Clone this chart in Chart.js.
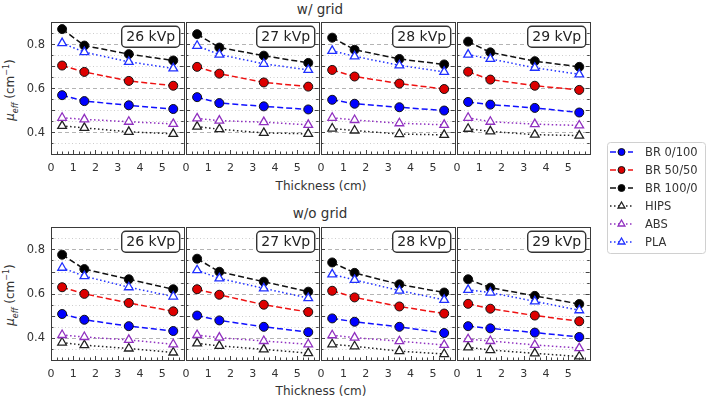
<!DOCTYPE html>
<html>
<head>
<meta charset="utf-8">
<script src="https://cdn.jsdelivr.net/npm/chart.js@4.4.0/dist/chart.umd.min.js"></script>
<style>
  body { margin:0; background:#fff; width:708px; height:399px; position:relative; overflow:hidden; font-family:"DejaVu Sans", sans-serif; color:#333; }
  canvas { position:absolute; }
  .txt { position:absolute; white-space:nowrap; transform:translate(-50%,-50%); }
  .ylab { position:absolute; white-space:nowrap; transform:translate(-50%,-50%) rotate(-90deg); font-size:12px; }
  .ylab sub { font-size:8px; }
  .ylab sup { font-size:8px; }
</style>
</head>
<body>
<div class="txt" style="left:320px;top:9px;font-size:13.5px">w/ grid</div>
<div class="txt" style="left:321px;top:186px;font-size:12px">Thickness (cm)</div>
<div class="txt" style="left:320px;top:213px;font-size:13.5px">w/o grid</div>
<div class="txt" style="left:321px;top:391px;font-size:12px">Thickness (cm)</div>
<div class="ylab" style="left:11px;top:90px"><i>μ</i><sub><i>eff</i></sub> (cm<sup>−1</sup>)</div>
<div class="ylab" style="left:11px;top:295px"><i>μ</i><sub><i>eff</i></sub> (cm<sup>−1</sup>)</div>
<script>
(function () {
  'use strict'

  const thickness = [0.5, 1.5, 3.5, 5.5]
  const kvps = ['26 kVp', '27 kVp', '28 kVp', '29 kVp']
  const seriesNames = ['BR 0/100', 'BR 50/50', 'BR 100/0', 'HIPS', 'ABS', 'PLA']
  const xTicks = [0, 1, 2, 3, 4, 5]
  const yTicks = [0.4, 0.6, 0.8]

  // w/ grid, one row per kVp (26..29)
  const br0Grid = [[0.568, 0.541, 0.522, 0.505], [0.559, 0.532, 0.517, 0.503], [0.547, 0.529, 0.513, 0.498], [0.537, 0.525, 0.510, 0.489]]
  const br50Grid = [[0.703, 0.674, 0.633, 0.611], [0.697, 0.666, 0.626, 0.607], [0.683, 0.653, 0.621, 0.596], [0.675, 0.639, 0.611, 0.592]]
  const br100Grid = [[0.869, 0.794, 0.755, 0.726], [0.846, 0.785, 0.748, 0.715], [0.830, 0.775, 0.733, 0.708], [0.812, 0.763, 0.723, 0.697]]
  const hipsGrid = [[0.428, 0.419, 0.401, 0.392], [0.425, 0.413, 0.396, 0.392], [0.416, 0.407, 0.391, 0.387], [0.415, 0.403, 0.388, 0.384]]
  const absGrid = [[0.465, 0.458, 0.447, 0.437], [0.462, 0.452, 0.445, 0.433], [0.465, 0.455, 0.440, 0.433], [0.465, 0.447, 0.436, 0.430]]
  const plaGrid = [[0.805, 0.764, 0.720, 0.690], [0.793, 0.753, 0.711, 0.683], [0.770, 0.745, 0.704, 0.674], [0.753, 0.733, 0.693, 0.663]]

  // w/o grid
  const br0NoGrid = [[0.508, 0.482, 0.453, 0.431], [0.501, 0.479, 0.450, 0.426], [0.488, 0.473, 0.450, 0.422], [0.453, 0.443, 0.424, 0.404]]
  const br50NoGrid = [[0.629, 0.599, 0.558, 0.520], [0.620, 0.595, 0.550, 0.517], [0.613, 0.583, 0.542, 0.510], [0.554, 0.532, 0.501, 0.475]]
  const br100NoGrid = [[0.776, 0.711, 0.665, 0.620], [0.758, 0.699, 0.654, 0.609], [0.741, 0.694, 0.642, 0.605], [0.665, 0.627, 0.590, 0.553]]
  const hipsNoGrid = [[0.379, 0.367, 0.352, 0.334], [0.375, 0.364, 0.348, 0.331], [0.371, 0.362, 0.340, 0.327], [0.357, 0.345, 0.330, 0.316]]
  const absNoGrid = [[0.413, 0.404, 0.391, 0.371], [0.413, 0.401, 0.386, 0.371], [0.412, 0.401, 0.385, 0.368], [0.394, 0.386, 0.368, 0.354]]
  const plaNoGrid = [[0.717, 0.679, 0.629, 0.587], [0.706, 0.669, 0.624, 0.580], [0.687, 0.662, 0.614, 0.572], [0.617, 0.605, 0.565, 0.525]]

  const rows = [
    [br0Grid, br50Grid, br100Grid, hipsGrid, absGrid, plaGrid],
    [br0NoGrid, br50NoGrid, br100NoGrid, hipsNoGrid, absNoGrid, plaNoGrid]
  ]

  const styles = [
    { color: '#1010ff', dash: [6, 3], point: 'circle', fill: '#0000ff', edge: '#111', r: 4.5, bw: 1 },
    { color: '#ee1111', dash: [6, 3], point: 'circle', fill: '#dd0000', edge: '#111', r: 4.5, bw: 1 },
    { color: '#111111', dash: [6, 3], point: 'circle', fill: '#000000', edge: '#111', r: 4.5, bw: 1 },
    { color: '#222222', dash: [1.5, 2.5], point: 'triangle', fill: '#ffffff', edge: '#222', r: 5, bw: 1.3 },
    { color: '#9030c0', dash: [1.5, 2.5], point: 'triangle', fill: '#ffffff', edge: '#9030c0', r: 5, bw: 1.3 },
    { color: '#2030ff', dash: [1.5, 2.5], point: 'triangle', fill: '#ffffff', edge: '#2030ff', r: 5, bw: 1.3 }
  ]

  const FONT = '"DejaVu Sans", sans-serif'
  const L = 44, T = 4, R = 4, B = 26
  const colEdges = [51, 186, 321, 457, 592]
  const rowTops = [20, 225]
  const rowHeights = [134, 135]

  const panelDeco = {
    id: 'panelDeco',
    beforeDatasetsDraw(chart) {
      const { ctx, chartArea: a, scales: { y } } = chart
      ctx.save()
      ctx.lineWidth = 1
      for (let k = 7; k <= 17; k++) {
        const py = Math.round(y.getPixelForValue(k * 0.05)) + 0.5
        const major = k % 4 === 0
        ctx.strokeStyle = major ? '#b4b4b4' : '#cdcdcd'
        ctx.setLineDash(major ? [4, 3] : [1, 2.5])
        ctx.beginPath()
        ctx.moveTo(a.left, py)
        ctx.lineTo(a.right, py)
        ctx.stroke()
      }
      ctx.restore()
    },
    afterDatasetsDraw(chart, args, opts) {
      const { ctx, chartArea: a, scales: { x, y } } = chart
      ctx.save()
      ctx.strokeStyle = '#444'
      ctx.lineWidth = 1
      ctx.setLineDash([])
      // inward ticks
      ctx.beginPath()
      for (let k = 7; k <= 17; k++) {
        const py = Math.round(y.getPixelForValue(k * 0.05)) + 0.5
        const len = k % 2 === 0 ? 4 : 2.5
        ctx.moveTo(a.left, py); ctx.lineTo(a.left + len, py)
        ctx.moveTo(a.right, py); ctx.lineTo(a.right - len, py)
      }
      for (let k = 1; k <= 23; k++) {
        const px = Math.round(x.getPixelForValue(k * 0.25)) + 0.5
        const len = k % 4 === 0 ? 4 : 2.5
        ctx.moveTo(px, a.bottom); ctx.lineTo(px, a.bottom - len)
      }
      ctx.stroke()
      ctx.strokeStyle = '#3a3a3a'
      ctx.strokeRect(Math.round(a.left) + 0.5, Math.round(a.top) + 0.5, Math.round(a.right - a.left), Math.round(a.bottom - a.top))

      // tick labels
      ctx.fillStyle = '#333'
      ctx.font = '11px ' + FONT
      ctx.textAlign = 'center'
      ctx.textBaseline = 'middle'
      xTicks.forEach(v => ctx.fillText(String(v), x.getPixelForValue(v), a.bottom + 14.5))
      if (opts.yLabels) {
        ctx.font = '11.5px ' + FONT
        ctx.textAlign = 'right'
        yTicks.forEach(v => ctx.fillText(v.toFixed(1), a.left - 6, y.getPixelForValue(v) + 0.5))
      }

      // kVp label box
      const bw = 58, bh = 21
      const bx = a.right - 4 - bw, by = a.top + 4
      ctx.beginPath()
      ctx.roundRect(bx, by, bw, bh, 4)
      ctx.fillStyle = '#fff'
      ctx.fill()
      ctx.lineWidth = 1.4
      ctx.strokeStyle = '#333'
      ctx.stroke()
      ctx.fillStyle = '#222'
      ctx.font = '14px ' + FONT
      ctx.textAlign = 'center'
      ctx.textBaseline = 'middle'
      ctx.fillText(opts.label, bx + bw / 2, by + bh / 2 + 1)
      ctx.restore()
    }
  }

  function makeDatasets(sets, k) {
    return sets.map((vals, i) => {
      const s = styles[i]
      return {
        label: seriesNames[i],
        data: thickness.map((t, j) => ({ x: t, y: vals[k][j] })),
        borderColor: s.color,
        borderWidth: 1.5,
        borderDash: s.dash,
        pointStyle: s.point,
        pointRadius: s.r,
        pointBackgroundColor: s.fill,
        pointBorderColor: s.edge,
        pointBorderWidth: s.bw,
        fill: false,
        tension: 0
      }
    })
  }

  rows.forEach((sets, r) => {
    kvps.forEach((kvp, c) => {
      const pw = colEdges[c + 1] - colEdges[c]
      const ph = rowHeights[r]
      const cv = document.createElement('canvas')
      cv.width = L + pw + R
      cv.height = T + ph + B
      cv.style.left = (colEdges[c] - L) + 'px'
      cv.style.top = (rowTops[r] - T) + 'px'
      document.body.appendChild(cv)

      new Chart(cv.getContext('2d'), {
        type: 'line',
        data: { datasets: makeDatasets(sets, c).reverse() },
        options: {
          responsive: false,
          animation: false,
          layout: { padding: { left: L, top: T, right: R, bottom: B } },
          plugins: {
            legend: { display: false },
            tooltip: { enabled: false },
            panelDeco: { label: kvp, yLabels: c === 0 }
          },
          scales: {
            x: { type: 'linear', display: false, min: 0, max: 5.97 },
            y: { type: 'linear', display: false, min: 0.3, max: 0.9 }
          }
        },
        plugins: [panelDeco]
      })
    })
  })

  // legend
  const legendDraw = {
    id: 'legendDraw',
    afterDraw(chart) {
      const ctx = chart.ctx
      ctx.save()
      ctx.beginPath()
      ctx.roundRect(7.5, 6.5, 98, 111, 3)
      ctx.fillStyle = '#fff'
      ctx.fill()
      ctx.strokeStyle = '#d0d0d0'
      ctx.lineWidth = 1
      ctx.stroke()
      chart.data.datasets.forEach((ds, i) => {
        const yy = 16 + i * 18
        ctx.strokeStyle = ds.borderColor
        ctx.lineWidth = 1.5
        ctx.setLineDash(ds.borderDash)
        ctx.beginPath()
        ctx.moveTo(10, yy)
        ctx.lineTo(33, yy)
        ctx.stroke()
        ctx.setLineDash([])
        ctx.fillStyle = ds.pointBackgroundColor
        ctx.strokeStyle = ds.pointBorderColor
        ctx.lineWidth = ds.pointBorderWidth
        Chart.helpers.drawPoint(ctx, { pointStyle: ds.pointStyle, radius: ds.pointRadius - 1, borderWidth: ds.pointBorderWidth, rotation: 0 }, 21.5, yy)
        ctx.fillStyle = '#333'
        ctx.font = '11.5px ' + FONT
        ctx.textAlign = 'left'
        ctx.textBaseline = 'middle'
        ctx.fillText(ds.label, 45, yy + 1)
      })
      ctx.restore()
    }
  }

  const lc = document.createElement('canvas')
  lc.width = 108
  lc.height = 124
  lc.style.left = '600px'
  lc.style.top = '136px'
  document.body.appendChild(lc)
  new Chart(lc.getContext('2d'), {
    type: 'line',
    data: { datasets: makeDatasets(rows[0], 0).map(d => Object.assign({}, d, { data: [] })) },
    options: {
      responsive: false,
      animation: false,
      plugins: { legend: { display: false }, tooltip: { enabled: false } },
      scales: { x: { display: false }, y: { display: false } }
    },
    plugins: [legendDraw]
  })
})()
</script>
</body>
</html>
